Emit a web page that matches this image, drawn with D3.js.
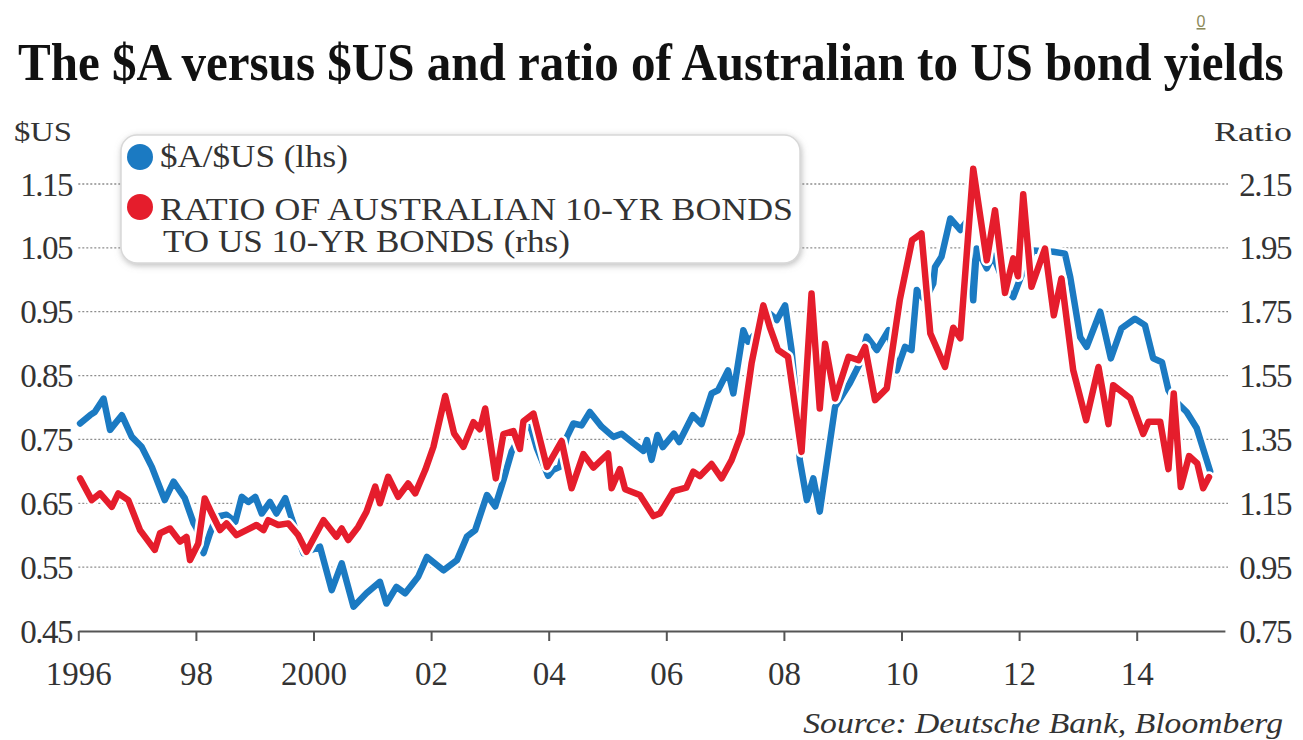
<!DOCTYPE html>
<html><head><meta charset="utf-8">
<script src="https://cdn.jsdelivr.net/npm/d3@7"></script>
<style>body{margin:0;background:#fff;} svg{display:block;}</style>
</head><body>
<svg id="c" width="1303" height="740"></svg>
<script>
const xTickYears=[1996,1998,2000,2002,2004,2006,2008,2010,2012,2014];
const xTickLabels=["1996","98","2000","02","04","06","08","10","12","14"];
const leftTicks=[0.45,0.55,0.65,0.75,0.85,0.95,1.05,1.15];
const rightTicks=[0.75,0.95,1.15,1.35,1.55,1.75,1.95,2.15];

const audDates=[1996.03,1996.20,1996.28,1996.43,1996.54,1996.74,1996.91,1997.08,1997.25,1997.47,
1997.62,1997.81,1997.96,1998.01,1998.13,1998.24,1998.35,1998.52,1998.67,1998.78,
1998.89,1999.01,1999.12,1999.26,1999.37,1999.52,1999.63,1999.83,2000.11,2000.31,
2000.48,2000.68,2000.90,2001.13,2001.24,2001.41,2001.56,2001.78,2001.93,2002.21,
2002.44,2002.61,2002.75,2002.95,2003.09,2003.23,2003.37,2003.55,2003.68,2003.80,
2003.99,2004.07,2004.19,2004.31,2004.42,2004.56,2004.70,2004.90,2005.10,2005.24,
2005.44,2005.61,2005.67,2005.75,2005.85,2005.94,2006.13,2006.22,2006.45,2006.60,
2006.77,2006.88,2007.05,2007.14,2007.31,2007.39,2007.54,2007.76,2007.88,2008.02,
2008.13,2008.21,2008.27,2008.39,2008.50,2008.61,2008.87,2009.12,2009.29,2009.41,
2009.58,2009.78,2009.92,2010.06,2010.17,2010.26,2010.40,2010.54,2010.57,2010.68,
2010.83,2011.00,2011.10,2011.22,2011.28,2011.45,2011.56,2011.79,2011.90,2012.02,
2012.24,2012.58,2012.78,2012.87,2013.04,2013.15,2013.38,2013.56,2013.74,2013.97,
2014.14,2014.28,2014.43,2014.54,2014.65,2014.85,2015.02,2015.25];
const audValues=[0.775,0.788,0.793,0.814,0.765,0.788,0.754,0.738,0.707,0.655,
0.684,0.658,0.619,0.611,0.572,0.603,0.629,0.632,0.621,0.660,
0.652,0.660,0.634,0.652,0.634,0.658,0.626,0.572,0.582,0.514,
0.556,0.488,0.509,0.527,0.493,0.519,0.509,0.535,0.566,0.545,
0.561,0.598,0.608,0.663,0.645,0.686,0.731,0.761,0.774,0.736,
0.693,0.702,0.707,0.754,0.775,0.772,0.793,0.770,0.754,0.759,
0.744,0.732,0.749,0.718,0.757,0.738,0.759,0.746,0.788,0.774,
0.822,0.827,0.858,0.822,0.921,0.903,0.918,0.947,0.937,0.960,
0.890,0.811,0.718,0.655,0.689,0.637,0.801,0.838,0.869,0.911,
0.890,0.921,0.858,0.895,0.890,0.984,0.968,0.994,1.020,1.036,
1.096,1.078,1.090,0.968,1.049,1.018,1.038,0.984,0.973,1.002,
1.046,1.044,1.041,1.004,0.910,0.895,0.950,0.877,0.924,0.939,
0.929,0.877,0.871,0.827,0.811,0.793,0.768,0.700];

const ratioDates=[1996.03,1996.23,1996.37,1996.57,1996.68,1996.85,1997.05,1997.30,1997.39,1997.56,
1997.73,1997.84,1997.90,1998.04,1998.15,1998.27,1998.41,1998.52,1998.69,1998.86,
1999.03,1999.15,1999.23,1999.40,1999.57,1999.74,1999.88,2000.17,2000.39,2000.48,
2000.59,2000.76,2000.90,2001.05,2001.13,2001.27,2001.44,2001.61,2001.73,2001.90,
2002.04,2002.24,2002.39,2002.55,2002.72,2002.83,2002.92,2003.10,2003.23,2003.40,
2003.51,2003.57,2003.74,2003.97,2004.22,2004.39,2004.59,2004.76,2005.01,2005.07,
2005.21,2005.30,2005.55,2005.78,2005.89,2006.12,2006.34,2006.46,2006.57,2006.77,
2006.94,2007.11,2007.28,2007.45,2007.65,2007.76,2007.90,2008.07,2008.30,2008.47,
2008.61,2008.70,2008.87,2009.10,2009.27,2009.38,2009.55,2009.75,2009.97,2010.18,
2010.34,2010.49,2010.74,2010.88,2011.00,2011.22,2011.45,2011.59,2011.76,2011.90,
2011.98,2012.07,2012.21,2012.44,2012.59,2012.72,2012.92,2013.14,2013.35,2013.52,
2013.60,2013.89,2014.11,2014.20,2014.40,2014.54,2014.63,2014.75,2014.89,2015.03,
2015.13,2015.23];
const ratioValues=[1.228,1.160,1.181,1.139,1.181,1.160,1.066,1.004,1.056,1.071,
1.030,1.045,0.972,1.024,1.165,1.118,1.066,1.087,1.050,1.066,
1.082,1.066,1.097,1.082,1.087,1.050,0.998,1.097,1.045,1.071,
1.035,1.076,1.123,1.202,1.150,1.233,1.170,1.212,1.181,1.254,
1.327,1.486,1.369,1.327,1.404,1.382,1.447,1.228,1.367,1.376,
1.320,1.407,1.431,1.264,1.345,1.197,1.304,1.262,1.306,1.197,
1.257,1.194,1.176,1.110,1.118,1.188,1.199,1.249,1.235,1.273,
1.228,1.285,1.369,1.588,1.770,1.702,1.630,1.609,1.311,1.807,
1.447,1.650,1.478,1.609,1.598,1.640,1.473,1.510,1.786,1.974,
1.995,1.682,1.577,1.700,1.667,2.198,1.911,2.068,1.809,1.917,
1.861,2.118,1.828,1.948,1.739,1.854,1.567,1.410,1.577,1.398,
1.520,1.479,1.367,1.405,1.405,1.257,1.494,1.201,1.298,1.275,
1.197,1.232];

const BLUE="#1b7ac2", RED="#e51d2c";
const SERIF="'Liberation Serif','Times New Roman',serif";

const svg=d3.select("#c");
const x=d3.scaleLinear().domain([1996,2015.5]).range([78.3,1224.9]);
const yL=d3.scaleLinear().domain([0.45,1.15]).range([631,184]);
const yR=d3.scaleLinear().domain([0.75,2.15]).range([631,184]);
const fmt=d3.format(".2f");

// scale a text horizontally so that it spans the wanted width (anchored at its x)
function fitText(sel, px, py, width, anchor){
  sel.attr("x",0).attr("y",0).attr("text-anchor",anchor||"start");
  const w=sel.node().getComputedTextLength();
  const s=width/w;
  sel.attr("transform",`translate(${px},${py}) scale(${s},1)`);
  return sel;
}

// defs
const defs=svg.append("defs");
const f=defs.append("filter").attr("id","sh").attr("x","-10%").attr("y","-20%").attr("width","120%").attr("height","150%");
f.append("feDropShadow").attr("dx",1).attr("dy",2).attr("stdDeviation",3).attr("flood-color","#888").attr("flood-opacity",0.55);

// top link
svg.append("text").attr("x",1201).attr("y",27).attr("text-anchor","middle")
  .style("font-family","'Liberation Sans',Arial,sans-serif").style("font-size","16px")
  .style("fill","#8c8a5a").style("text-decoration","underline").text("0");

// title
fitText(svg.append("text")
  .style("font-family",SERIF).style("font-weight","bold").style("font-size","53px").style("fill","#111")
  .text("The $A versus $US and ratio of Australian to US bond yields"), 18, 80, 1266);

// axis titles
fitText(svg.append("text").style("font-family",SERIF).style("font-size","28px").style("fill","#333").text("$US"),14,141,58);
fitText(svg.append("text").style("font-family",SERIF).style("font-size","28px").style("fill","#333").text("Ratio"),1292,141,78,"end");

// gridlines
svg.append("g").selectAll("line").data(leftTicks.slice(1)).join("line")
  .attr("x1",x(1996)).attr("x2",1228).attr("y1",d=>yL(d)).attr("y2",d=>yL(d))
  .attr("stroke","#8d8d8d").attr("stroke-width",1.3).attr("stroke-dasharray","2,2");

// left labels
svg.append("g").selectAll("text").data(leftTicks).join("text")
  .attr("x",72).attr("y",d=>yL(d)).attr("dy","0.35em").attr("text-anchor","end")
  .style("font-family",SERIF).style("font-size","33px").style("letter-spacing","-1.5px").style("fill","#333")
  .text(d=>fmt(d));
// right labels
svg.append("g").selectAll("text").data(rightTicks).join("text")
  .attr("x",1291).attr("y",d=>yR(d)).attr("dy","0.35em").attr("text-anchor","end")
  .style("font-family",SERIF).style("font-size","33px").style("letter-spacing","-1.5px").style("fill","#333")
  .text(d=>fmt(d));

// x axis
const xa=svg.append("g").attr("transform","translate(0,631)")
  .call(d3.axisBottom(x).tickValues(xTickYears).tickFormat((d,i)=>xTickLabels[i]).tickSize(10).tickSizeOuter(0).tickPadding(21));
xa.select(".domain").attr("stroke","#555").attr("stroke-width",2);
xa.selectAll(".tick line").attr("stroke","#555").attr("stroke-width",2);
xa.selectAll(".tick text").style("font-family",SERIF).style("font-size","33px").style("fill","#333");

// lines
const aud=audDates.map((d,i)=>({t:d,v:audValues[i]}));
const ratio=ratioDates.map((d,i)=>({t:d,v:ratioValues[i]}));
const lineL=d3.line().x(d=>x(d.t)).y(d=>yL(d.v));
const lineR=d3.line().x(d=>x(d.t)).y(d=>yR(d.v));
function drawLine(data,gen,color){
  svg.append("path").datum(data).attr("d",gen).attr("fill","none").attr("stroke","#fff")
    .attr("stroke-width",11.5).attr("stroke-linejoin","round").attr("stroke-linecap","round");
  svg.append("path").datum(data).attr("d",gen).attr("fill","none").attr("stroke",color)
    .attr("stroke-width",6.5).attr("stroke-linejoin","round").attr("stroke-linecap","round");
}
drawLine(aud,lineL,BLUE);
drawLine(ratio,lineR,RED);

// legend
const lg=svg.append("g");
lg.append("rect").attr("x",121).attr("y",135).attr("width",679).attr("height",128).attr("rx",16)
  .attr("fill","#fff").attr("stroke","#d8d8d8").attr("stroke-width",1.5).attr("filter","url(#sh)");
lg.append("circle").attr("cx",140).attr("cy",157).attr("r",13).attr("fill",BLUE);
lg.append("circle").attr("cx",140).attr("cy",207).attr("r",13).attr("fill",RED);
const lt=(t,xx,yy,len)=>fitText(lg.append("text")
  .style("font-family",SERIF).style("font-size","31px").style("fill","#333").text(t),xx,yy,len);
lt("$A/$US (lhs)",160,167,188);
lt("RATIO OF AUSTRALIAN 10-YR BONDS",160,220,633);
lt("TO US 10-YR BONDS (rhs)",163,252,407);

// source
fitText(svg.append("text")
  .style("font-family",SERIF).style("font-style","italic").style("font-size","30px").style("fill","#333")
  .text("Source: Deutsche Bank, Bloomberg"),1283,733,480,"end");
</script>
</body></html>
